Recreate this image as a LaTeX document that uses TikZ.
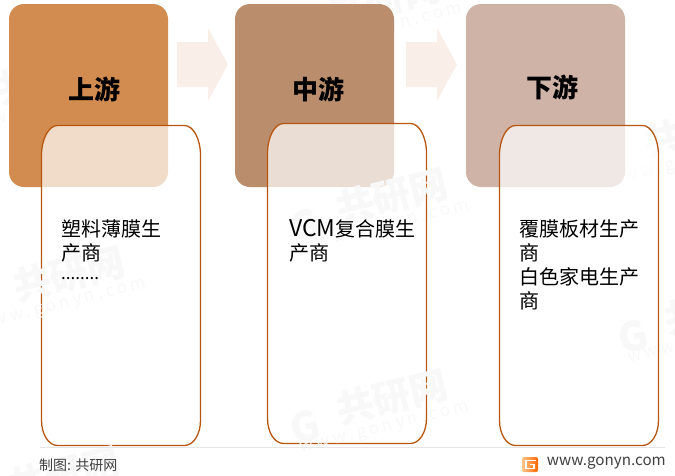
\documentclass[tikz,border=0pt]{standalone}
\usepackage{fontspec}
\setmainfont{Noto Sans CJK SC}
\definecolor{upfill}{HTML}{D38C4F}
\definecolor{midfill}{HTML}{BA8E6D}
\definecolor{downfill}{HTML}{CFB3A7}
\definecolor{listline}{HTML}{B8560F}
\definecolor{arrowfill}{HTML}{F9EEE8}
\definecolor{footgray}{HTML}{404040}
\definecolor{stampgray}{HTML}{F8F8F8}
\tikzset{
    headbox/.style={rounded corners=15pt},
    listbox/.style={draw=listline,line width=1.3pt,fill=white,fill opacity=0.7},
    headtext/.style={font=\fontsize{26}{26}\selectfont\bfseries,text=black},
    listtext/.style={font=\fontsize{20}{24}\selectfont,text=black,anchor=north west,align=left,inner sep=0pt,text width=135pt},
    flowarrow/.style={fill=arrowfill},
    stamptext/.style={text=stampgray,rotate=14,inner sep=0pt}
}
% list box with its corner at (#1,#2)
\newcommand{\listshape}[2]{
    \draw [listbox] (#1,#2+30) arc [start angle=180,end angle=270,x radius=16,y radius=30]
        -- (#1+143,#2) arc [start angle=270,end angle=360,x radius=16,y radius=30]
        -- (#1+159,#2+295) arc [start angle=0,end angle=90,x radius=16,y radius=25]
        -- (#1+16,#2+320) arc [start angle=90,end angle=180,x radius=16,y radius=25]
        -- cycle;
}
% watermark centred on (#1,#2)
\newcommand{\stampmark}[3]{
    \node [stamptext,font=\fontsize{40}{40}\selectfont\bfseries] (stampg#3) at (#1-87,#2+30) {G};
    \node [stamptext,font=\fontsize{38}{38}\selectfont\bfseries] (stampname#3) at (#1,#2) {共研网};
    \node [stamptext,font=\fontsize{17}{17}\selectfont\addfontfeature{LetterSpace=20}] (stampsite#3) at (#1-7,#2+32) {www.gonyn.com};
}
\begin{document}
\begin{tikzpicture}[x=1pt,y=-1pt]
    \useasboundingbox (0,0) rectangle (675,475);
    \stampmark{52}{77}{a}
    \stampmark{385}{-1}{b}
    \stampmark{700}{130}{c}
    % head boxes
    \fill [upfill,headbox] (9,4) rectangle (168,187);
    \fill [midfill,headbox] (235,4) rectangle (394,187);
    \fill [downfill,headbox] (466,4) rectangle (625,187);
    \node [headtext] (up) at (94.5,89) {上游};
    \node [headtext] (mid) at (318.5,89) {中游};
    \node [headtext] (down) at (552.5,87) {下游};
    % arrows
    \foreach \ax in {177,406}
        \fill [flowarrow] (\ax,42)--(\ax+31,42)--(\ax+31,28)--(\ax+51,64.5)--(\ax+31,101)--(\ax+31,87)--(\ax,87)--cycle;
    % list boxes
    \listshape{41.5}{125.5}
    \listshape{267.5}{123.5}
    \listshape{499.5}{125.5}
    \stampmark{69}{274}{d}
    \stampmark{64}{474}{e}
    \stampmark{392}{196}{f}
    \stampmark{392}{397}{g}
    \stampmark{720}{307}{h}
    \node [listtext] (uplist) at (61,219.5) {塑料薄膜生\\产商\\[-5pt]{\fontsize{17}{24}\selectfont ........}};
    \node [listtext] (midlist) at (289,219.5) {{\fontsize{23}{24}\selectfont VCM}复合膜生\\产商};
    \node [listtext] (downlist) at (519,219.5) {覆膜板材生产\\商\\白色家电生产\\商};
    % footer
    \draw [black!10] (40,447.5)--(665,447.5);
    \node [font=\fontsize{14}{14}\selectfont,anchor=west,inner sep=0pt,text=footgray] (credit) at (39,465.5) {制图: 共研网};
    \node [font=\fontsize{15.2}{15}\selectfont,anchor=east,inner sep=0pt,text=footgray] (site) at (666,463) {www.gonyn.com};
    % logo
    \shade [left color=orange!45!white,right color=orange!80!red,rounded corners=2pt] (522,457) rectangle (538,472);
    \draw [white,line width=1.6pt] (536,460.5)--(526,460.5)--(526,468.5)--(534,468.5)--(534,464.5)--(530,464.5);
\end{tikzpicture}
\end{document}
